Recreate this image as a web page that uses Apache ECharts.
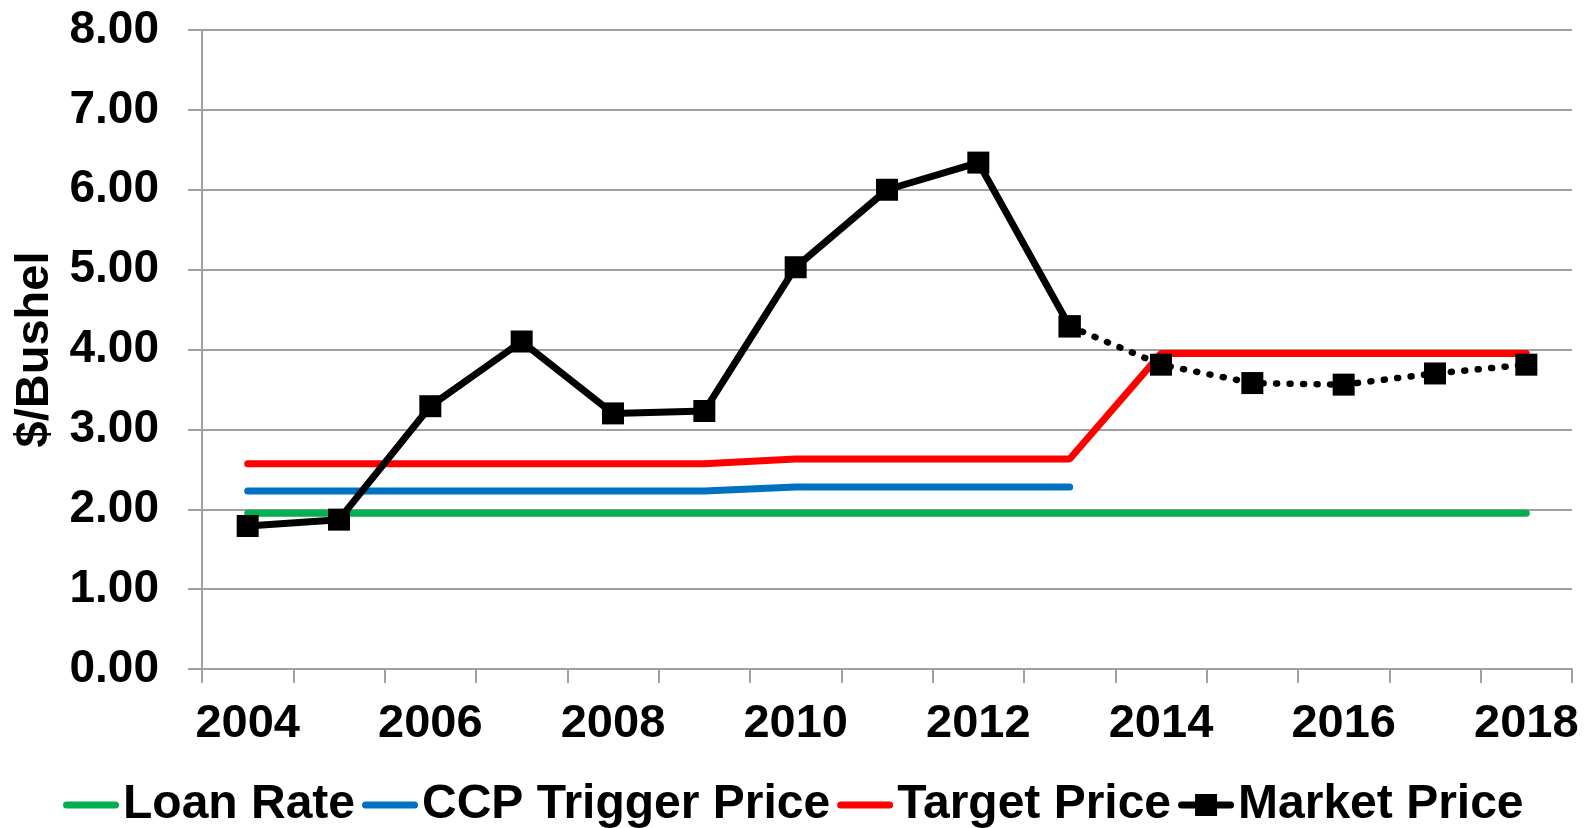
<!DOCTYPE html>
<html>
<head>
<meta charset="utf-8">
<script src="https://cdn.jsdelivr.net/npm/echarts@6/dist/echarts.min.js"></script>
<style>
html,body{margin:0;padding:0;background:#fff;}
#chart{width:1596px;height:828px;}
</style>
</head>
<body>
<div id="chart"></div>
<script>
const years = ['2004','2005','2006','2007','2008','2009','2010','2011','2012','2013','2014','2015','2016','2017','2018'];
const loanRate = [1.95,1.95,1.95,1.95,1.95,1.95,1.95,1.95,1.95,1.95,1.95,1.95,1.95,1.95,1.95];
const ccpTriggerPrice = [2.23,2.23,2.23,2.23,2.23,2.23,2.28,2.28,2.28,2.28,null,null,null,null,null];
const targetPrice = [2.57,2.57,2.57,2.57,2.57,2.57,2.63,2.63,2.63,2.63,3.95,3.95,3.95,3.95,3.95];
const marketPrice = [1.79,1.87,3.29,4.10,3.20,3.23,5.03,6.00,6.34,4.29,3.81,3.58,3.56,3.70,3.81];
const lastActualYear = '2013';
const yTicks = [0,1,2,3,4,5,6,7,8];

const cut = years.indexOf(lastActualYear);
const marketActual = marketPrice.map((v,i)=> i<=cut ? v : null);
const marketProjected = marketPrice.map((v,i)=> i>=cut ? v : null);

const FONT = '"Liberation Sans", Arial, sans-serif';
const GRAY = '#a0a0a0';
// legend icons: thick round-capped line; market price adds a square marker
const ICON_LINE = 'path://M3.5,0 H52.5 A3.5,3.5 0 0 1 52.5,7 H3.5 A3.5,3.5 0 0 1 3.5,0 Z';
const ICON_MARKET = 'path://M3.5,7.5 H52.5 A3.5,3.5 0 0 1 52.5,14.5 H3.5 A3.5,3.5 0 0 1 3.5,7.5 Z M17,0 H39 V22 H17 Z';

const chart = echarts.init(document.getElementById('chart'));
chart.setOption({
  animation: false,
  backgroundColor: '#fff',
  grid: {left: 202, right: 24, top: 30, bottom: 159},
  legend: {
    data: [
      {name: 'Loan Rate', icon: ICON_LINE},
      {name: 'CCP Trigger Price', icon: ICON_LINE},
      {name: 'Target Price', icon: ICON_LINE},
      {name: 'Market Price', icon: ICON_MARKET}
    ],
    left: 58, top: 776,
    itemWidth: 56, itemHeight: 26, itemGap: 7,
    itemStyle: {borderWidth: 0},
    textStyle: {fontFamily: FONT, fontSize: 48, fontWeight: 'bold', color: '#000', padding: [0, 0, 0, -1]}
  },
  xAxis: {
    type: 'category',
    data: years,
    boundaryGap: true,
    axisLine: {lineStyle: {color: GRAY, width: 2}},
    axisTick: {show: true, interval: 0, length: 14, lineStyle: {color: GRAY, width: 2}},
    axisLabel: {interval: 1, margin: 32, fontFamily: FONT, fontSize: 47, fontWeight: 'bold', color: '#000'},
    splitLine: {show: false}
  },
  yAxis: {
    type: 'value',
    min: yTicks[0], max: yTicks[yTicks.length-1], interval: 1,
    name: '$/Bushel',
    nameLocation: 'middle',
    nameRotate: 90,
    nameGap: 141,
    nameTextStyle: {fontFamily: FONT, fontSize: 47, fontWeight: 'bold', color: '#000'},
    axisLine: {show: true, lineStyle: {color: GRAY, width: 2}},
    axisTick: {show: true, length: 14, lineStyle: {color: GRAY, width: 2}},
    axisLabel: {margin: 43, fontFamily: FONT, fontSize: 46, fontWeight: 'bold', color: '#000', formatter: v => v.toFixed(2)},
    splitLine: {show: true, lineStyle: {color: GRAY, width: 2}}
  },
  series: [
    {name: 'Loan Rate', type: 'line', data: loanRate, symbol: 'none', color: '#00b050',
     lineStyle: {width: 7, color: '#00b050', cap: 'round'}, z: 2},
    {name: 'CCP Trigger Price', type: 'line', data: ccpTriggerPrice, symbol: 'none', color: '#0070c0',
     lineStyle: {width: 7, color: '#0070c0', cap: 'round'}, z: 2},
    {name: 'Target Price', type: 'line', data: targetPrice, symbol: 'none', color: '#ff0000',
     lineStyle: {width: 7, color: '#ff0000', cap: 'round'}, z: 2},
    {name: 'Market Price', type: 'line', data: marketActual, symbol: 'rect', symbolSize: 22, color: '#000',
     itemStyle: {color: '#000'}, lineStyle: {width: 7, color: '#000', cap: 'round'}, z: 4},
    {name: 'Market Price (projected)', type: 'line', data: marketProjected, symbol: 'rect', symbolSize: 22, color: '#000',
     itemStyle: {color: '#000'}, lineStyle: {width: 6.5, color: '#000', type: [1, 12.5], cap: 'round'}, z: 3}
  ]
});
</script>
</body>
</html>
